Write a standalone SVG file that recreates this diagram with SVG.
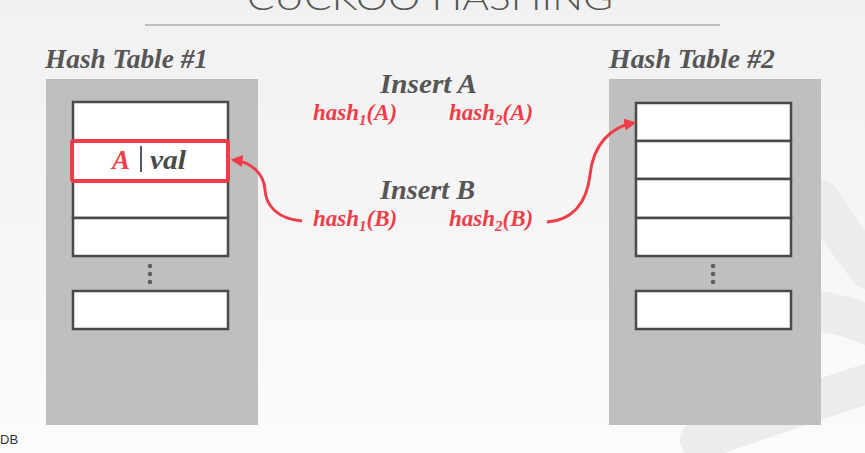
<svg xmlns="http://www.w3.org/2000/svg" width="865" height="453" viewBox="0 0 865 453">
<defs>
<linearGradient id="bg" x1="0" y1="0" x2="0" y2="1">
<stop offset="0" stop-color="#f1f1f1"/>
<stop offset="1" stop-color="#fbfbfb"/>
</linearGradient>
<marker id="arr" viewBox="0 0 10 10" refX="8" refY="5" markerWidth="4" markerHeight="4" orient="auto" markerUnits="strokeWidth">
<path d="M0,0 L10,5 L0,10 z" fill="#ef3e49"/>
</marker>
<style>
.panel{fill:#bfbfbf}
.slot{fill:#ffffff;stroke:#4a4a47;stroke-width:2.5}
.dot{fill:#5f5f5f}
.lbl{font-family:"Liberation Serif",serif;font-weight:bold;font-style:italic;fill:#565656}
.red{font-family:"Liberation Serif",serif;font-weight:bold;font-style:italic;fill:#ef3e49;font-size:23px}
.conn{fill:none;stroke:#ef3e49;stroke-width:3;marker-end:url(#arr)}
</style>
</defs>
<rect x="0" y="0" width="865" height="453" fill="url(#bg)"/>
<g fill="none" stroke="#ececec" stroke-width="40" stroke-linecap="round">
<path d="M680,320 C760,300 830,305 880,330"/>
<path d="M700,440 C760,420 830,395 880,380"/>
<path d="M820,200 C840,230 860,260 870,270"/>
</g>
<text x="247" y="10" font-family="Lato, 'Open Sans', sans-serif" font-weight="300" font-size="34" fill="#555" textLength="366" lengthAdjust="spacingAndGlyphs">CUCKOO HASHING</text>
<line x1="145" y1="25" x2="720" y2="25" stroke="#bdbdbd" stroke-width="2"/>

<g id="table1">
<text class="lbl" x="45" y="68" font-size="27" textLength="163" lengthAdjust="spacingAndGlyphs">Hash Table #1</text>
<rect class="panel" x="46" y="79" width="212" height="346"/>
<rect class="slot" x="73" y="102" width="155" height="39"/>
<rect class="slot" x="73" y="141" width="155" height="39"/>
<rect class="slot" x="73" y="180" width="155" height="38"/>
<rect class="slot" x="73" y="218" width="155" height="38"/>
<circle class="dot" cx="150" cy="266" r="2.3"/>
<circle class="dot" cx="150" cy="274" r="2.3"/>
<circle class="dot" cx="150" cy="282" r="2.3"/>
<rect class="slot" x="73" y="291" width="155" height="38"/>
</g>

<g id="entryA">
<rect x="72" y="141" width="156" height="40" rx="2" fill="#ffffff" stroke="#ef3e49" stroke-width="4"/>
<text x="112" y="169" font-family="'Liberation Serif',serif" font-weight="bold" font-style="italic" font-size="27" fill="#ef3e49">A</text>
<line x1="141" y1="146" x2="141" y2="172" stroke="#3f4a55" stroke-width="1.8"/>
<text x="150" y="169" font-family="'Liberation Serif',serif" font-weight="bold" font-style="italic" font-size="27" fill="#4a4a4a" textLength="36" lengthAdjust="spacingAndGlyphs">val</text>
</g>

<g id="table2">
<text class="lbl" x="609" y="68" font-size="27" textLength="166" lengthAdjust="spacingAndGlyphs">Hash Table #2</text>
<rect class="panel" x="609" y="79" width="212" height="346"/>
<rect class="slot" x="636" y="103" width="155" height="38"/>
<rect class="slot" x="636" y="141" width="155" height="38"/>
<rect class="slot" x="636" y="179" width="155" height="39"/>
<rect class="slot" x="636" y="218" width="155" height="38"/>
<circle class="dot" cx="713" cy="266" r="2.3"/>
<circle class="dot" cx="713" cy="274" r="2.3"/>
<circle class="dot" cx="713" cy="282" r="2.3"/>
<rect class="slot" x="636" y="291" width="155" height="38"/>
</g>

<g id="insertA">
<text class="lbl" x="380" y="93" font-size="27" textLength="97" lengthAdjust="spacingAndGlyphs">Insert A</text>
<text class="red" x="313" y="120">hash<tspan font-size="15" dy="5">1</tspan><tspan dy="-5">(A)</tspan></text>
<text class="red" x="449" y="120">hash<tspan font-size="15" dy="5">2</tspan><tspan dy="-5">(A)</tspan></text>
</g>

<g id="insertB">
<text class="lbl" x="380" y="199" font-size="27" textLength="95" lengthAdjust="spacingAndGlyphs">Insert B</text>
<text class="red" x="313" y="226">hash<tspan font-size="15" dy="5">1</tspan><tspan dy="-5">(B)</tspan></text>
<text class="red" x="449" y="226">hash<tspan font-size="15" dy="5">2</tspan><tspan dy="-5">(B)</tspan></text>
</g>

<g id="connectors">
<path class="conn" d="M302,221 C278,219 266,206 265,190 C264,174 252,162 233,160"/>
<path class="conn" d="M547,222 C575,220 587,200 590,175 C593,145 610,127 634,123"/>
</g>

<text x="0" y="444" font-family="'Liberation Sans',sans-serif" font-size="13" fill="#333">DB</text>
</svg>
